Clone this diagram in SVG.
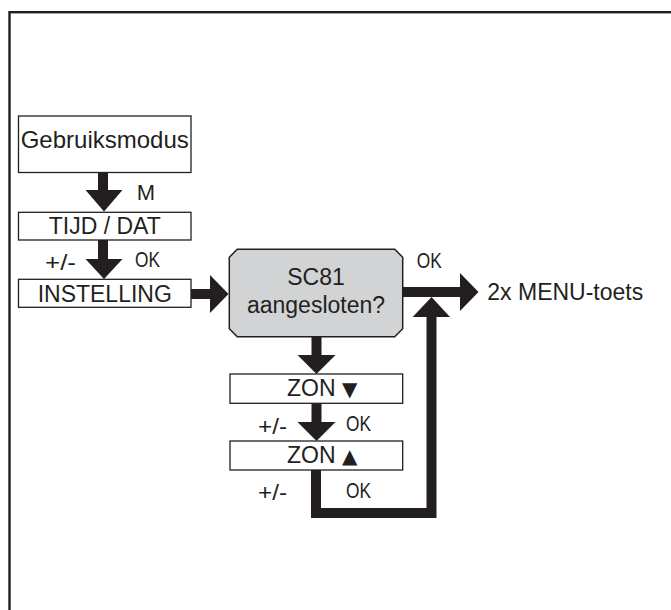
<svg xmlns="http://www.w3.org/2000/svg" width="671" height="610" viewBox="0 0 671 610">
<style>
.frame{fill:none;stroke:#231f20;stroke-width:2.4}
.box{fill:#fff;stroke:#231f20;stroke-width:1.3}
.dec{fill:#d1d3d4;stroke:#231f20;stroke-width:1.5}
.lbl{font-family:"Liberation Sans",Arial,sans-serif;font-size:23px;fill:#231f20}
.c{text-anchor:middle}
.sm{font-family:"Liberation Sans",Arial,sans-serif;font-size:22px;fill:#231f20}
.tri{font-family:"DejaVu Sans",sans-serif;font-size:20px}
.shaft{fill:none;stroke:#231f20;stroke-width:10;stroke-linejoin:miter}
.head{fill:#231f20}
</style>
<rect class="frame" x="9.5" y="12.2" width="700" height="700"/>
<g id="connectors">
  <line class="shaft" x1="103" y1="172.5" x2="103" y2="191"/>
  <polygon class="head" points="85.5,190 122.5,190 104,211.5"/>
  <line class="shaft" x1="103" y1="240" x2="103" y2="260"/>
  <polygon class="head" points="85.5,259 122.5,259 104,279"/>
  <line class="shaft" x1="191" y1="294" x2="211" y2="294"/>
  <polygon class="head" points="210,275 210,313 228.5,294"/>
  <line class="shaft" x1="316.5" y1="337" x2="316.5" y2="356"/>
  <polygon class="head" points="297.5,355 335.5,355 316.5,374"/>
  <line class="shaft" x1="316.5" y1="403.5" x2="316.5" y2="423"/>
  <polygon class="head" points="297.5,422 335.5,422 316.5,441"/>
  <polyline class="shaft" points="316,470 316,513 431.5,513 431.5,316"/>
  <polygon class="head" points="412.7,317 450,317 431.5,297"/>
  <line class="shaft" x1="403" y1="292" x2="461" y2="292"/>
  <polygon class="head" points="460,273 460,311 478.5,292"/>
</g>
<g id="gebruiksmodus">
  <rect class="box" x="18.5" y="116" width="172.5" height="56.5"/>
  <text class="lbl c" x="104.75" y="148.3" style="font-size:24px">Gebruiksmodus</text>
</g>
<text class="lbl" x="136.7" y="200" style="font-size:22px">M</text>
<g id="tijd-dat">
  <rect class="box" x="18.5" y="212.3" width="172.5" height="27.7"/>
  <text class="lbl c" x="104.75" y="234.3">TIJD / DAT</text>
</g>
<text class="sm" x="45" y="270" textLength="31" lengthAdjust="spacingAndGlyphs">+/-</text>
<text class="sm" x="135" y="267" textLength="25" lengthAdjust="spacingAndGlyphs">OK</text>
<g id="instelling">
  <rect class="box" x="18.5" y="279.3" width="172.5" height="28"/>
  <text class="lbl c" x="104.75" y="301.7">INSTELLING</text>
</g>
<g id="sc81">
  <polygon class="dec" points="237.3,249.3 394.7,249.3 402.7,257.3 402.7,328.7 394.7,336.7 237.3,336.7 229.3,328.7 229.3,257.3"/>
  <text class="lbl c" x="316" y="285">SC81</text>
  <text class="lbl c" x="316" y="313.3">aangesloten?</text>
</g>
<text class="sm" x="416.7" y="268.3" textLength="25" lengthAdjust="spacingAndGlyphs">OK</text>
<text class="lbl" x="487.3" y="300">2x MENU-toets</text>
<g id="zon-down">
  <rect class="box" x="230" y="374" width="172.7" height="29.3"/>
  <text class="lbl" x="287" y="395.7">ZON <tspan class="tri">▼</tspan></text>
</g>
<text class="sm" x="258" y="434" textLength="29" lengthAdjust="spacingAndGlyphs">+/-</text>
<text class="sm" x="346" y="431" textLength="25" lengthAdjust="spacingAndGlyphs">OK</text>
<g id="zon-up">
  <rect class="box" x="230" y="441" width="172.7" height="29"/>
  <text class="lbl" x="287" y="462.7">ZON <tspan class="tri">▲</tspan></text>
</g>
<text class="sm" x="258" y="500" textLength="29" lengthAdjust="spacingAndGlyphs">+/-</text>
<text class="sm" x="346" y="497.7" textLength="25" lengthAdjust="spacingAndGlyphs">OK</text>
</svg>
